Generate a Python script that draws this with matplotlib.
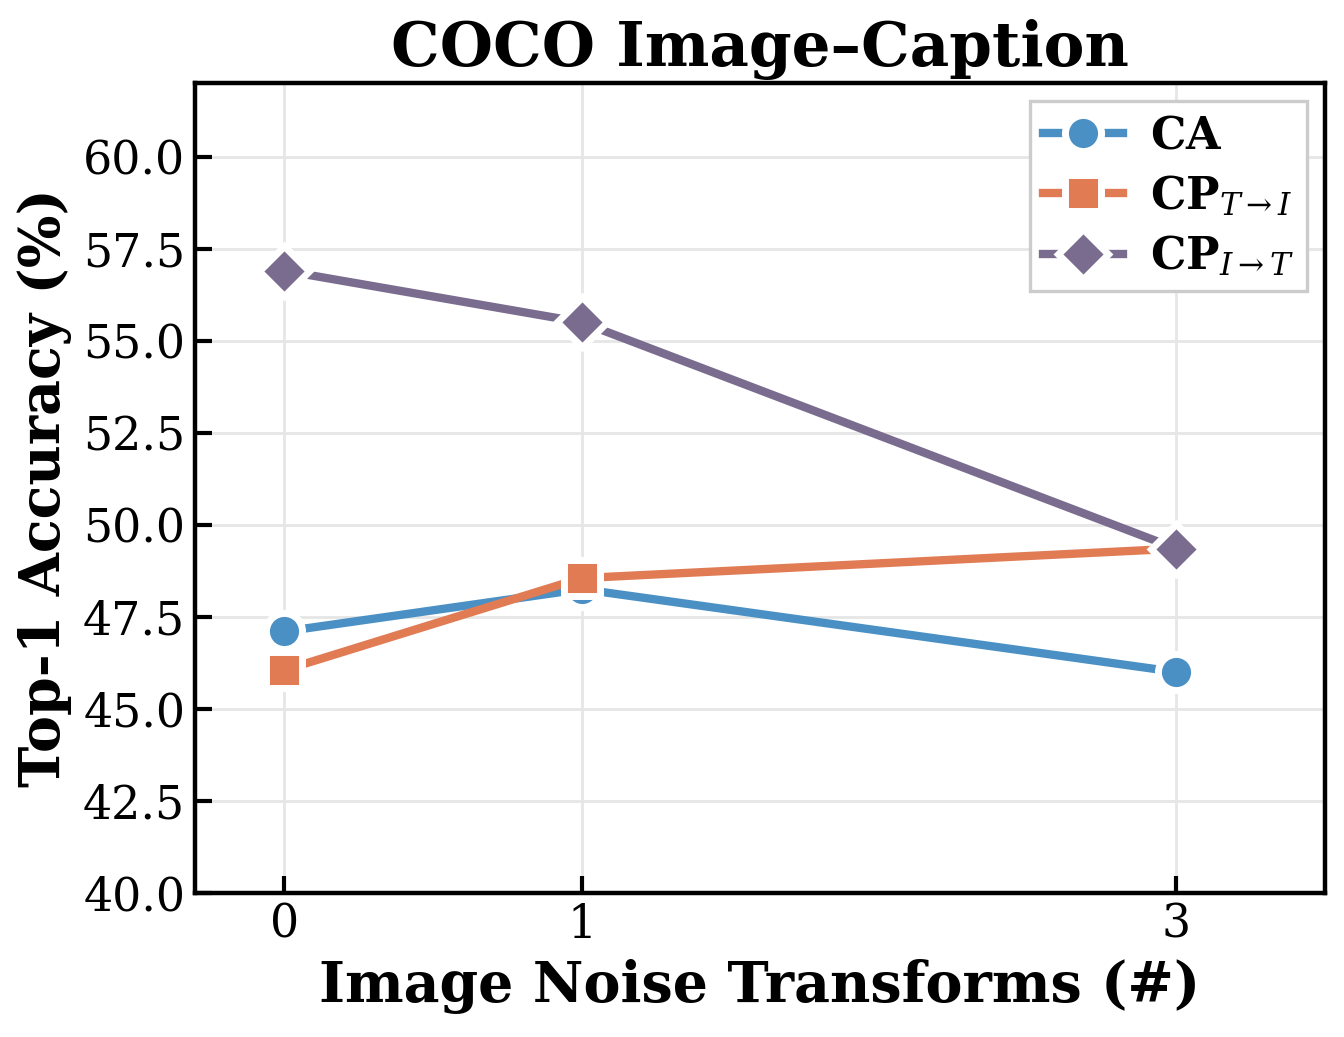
import matplotlib
matplotlib.use("Agg")
import matplotlib.pyplot as plt

# data
noise = [0, 1, 3]
ca = [47.1, 48.25, 46.0]
cp_t2i = [46.05, 48.55, 49.35]
cp_i2t = [56.9, 55.5, 49.35]

labels = [r"$\mathbf{CA}$", r"$\mathbf{CP}_{T\rightarrow I}$", r"$\mathbf{CP}_{I\rightarrow T}$"]
colors = ["#4a90c4", "#e07b54", "#7a6c8e"]
markers = ["o", "s", "D"]

plt.rcParams["font.family"] = "DejaVu Serif"
plt.rcParams["mathtext.fontset"] = "dejavuserif"

fig, ax = plt.subplots(figsize=(6.72, 5.185), dpi=200)
fig.subplots_adjust(left=0.145, right=0.986, top=0.92, bottom=0.139)

for vals, lab, c, m in zip([ca, cp_t2i, cp_i2t], labels, colors, markers):
    ax.plot(noise, vals, color=c, marker=m, label=lab, linewidth=3,
            markersize=13 if m != "D" else 12.5, markeredgecolor="white",
            markeredgewidth=2.5)

ax.set_xlim(-0.3, 3.5)
ax.set_ylim(40, 62)
ax.set_xticks(noise)
ax.set_yticks([40, 42.5, 45, 47.5, 50, 52.5, 55, 57.5, 60])
ax.set_yticklabels(["40.0", "42.5", "45.0", "47.5", "50.0", "52.5", "55.0", "57.5", "60.0"])
ax.tick_params(direction="in", length=6, width=1.5, labelsize=16.5)
ax.grid(True, color="#e6e6e6", linewidth=1)
ax.set_axisbelow(True)
for s in ax.spines.values():
    s.set_linewidth(1.6)

ax.set_title("COCO Image–Caption", fontsize=22, fontweight="bold")
ax.set_xlabel("Image Noise Transforms (#)", fontsize=20, fontweight="bold")
ax.set_ylabel("Top-1 Accuracy (%)", fontsize=20, fontweight="bold")

leg = ax.legend(loc="upper right", fontsize=16, fancybox=False, framealpha=1,
                edgecolor="#cccccc", handlelength=1.8, borderpad=0.3,
                labelspacing=0.35, borderaxespad=0.4, handletextpad=0.6)
leg.get_frame().set_linewidth(1.2)

plt.savefig("out.png", dpi=200)
